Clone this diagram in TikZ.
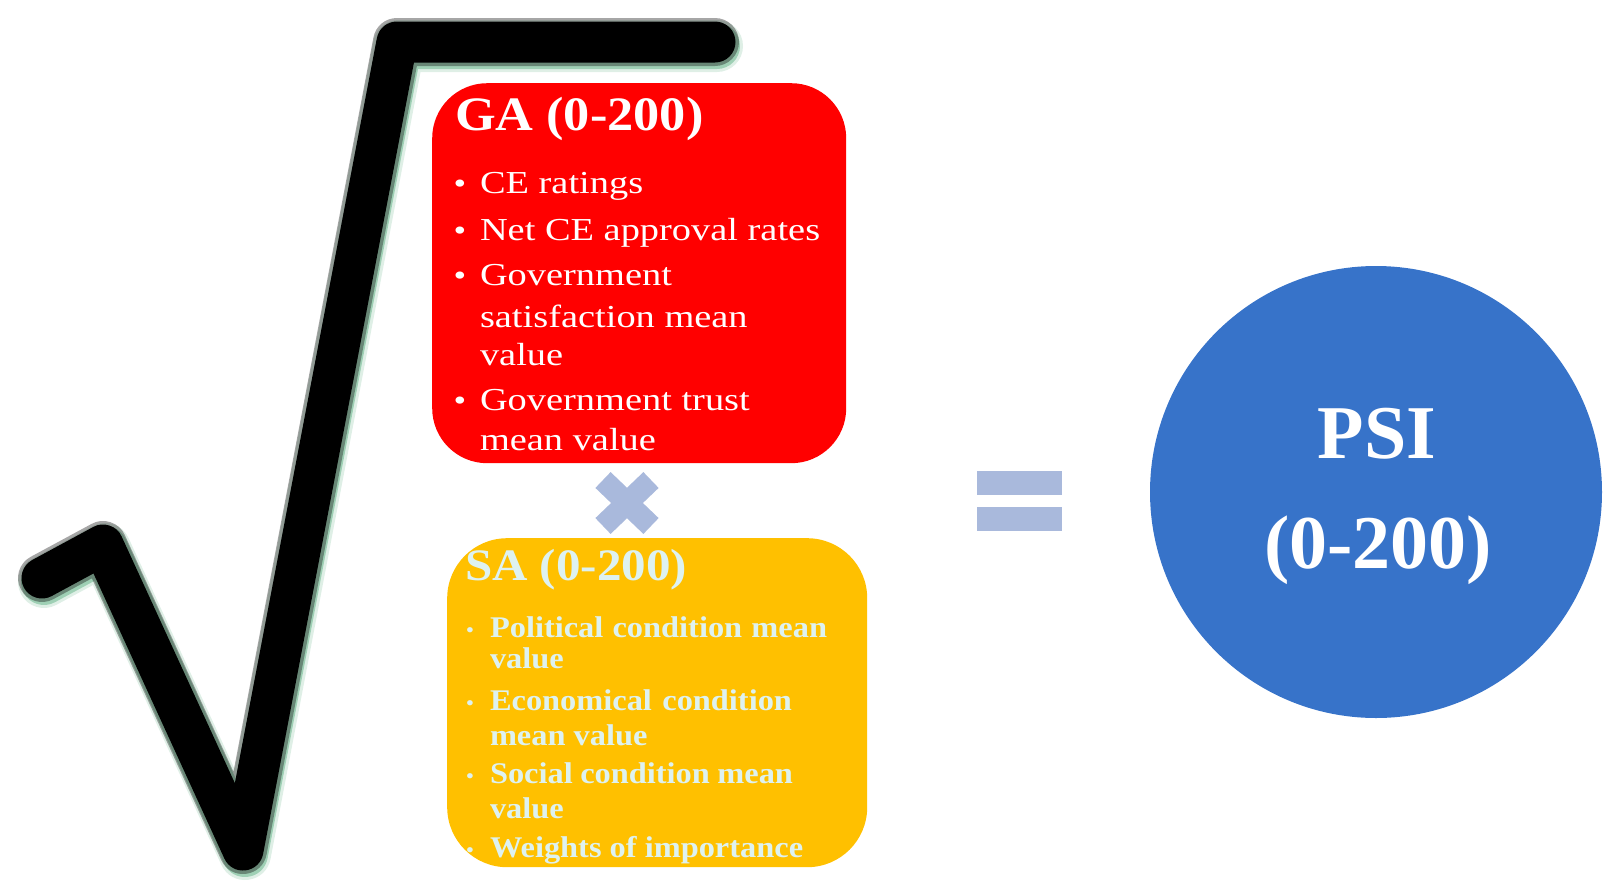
\documentclass[tikz,border=0pt]{standalone}
\usepackage{fontspec}
\setmainfont{Liberation Serif}
\newfontfamily\titlefont[FakeStretch=1.09]{Liberation Serif}
\newfontfamily\gabodyfont[FakeStretch=1.2]{Liberation Serif}
\newfontfamily\sabodyfont[FakeStretch=1.08]{Liberation Serif}
\definecolor{gared}{RGB}{255,0,0}
\definecolor{saorange}{RGB}{255,192,0}
\definecolor{salight}{RGB}{222,242,240}
\definecolor{opgrey}{RGB}{169,185,220}
\definecolor{psiblue}{RGB}{55,115,201}
\definecolor{glow}{RGB}{40,150,90}
\tikzset{
  txt/.style={inner sep=0pt, outer sep=0pt, anchor=base west},
  bul/.style={inner sep=0pt, outer sep=0pt, anchor=base},
  gatitle/.style={txt, text=white, font=\titlefont\bfseries\fontsize{48}{48}\selectfont},
  satitle/.style={txt, text=salight, font=\titlefont\bfseries\fontsize{45}{45}\selectfont},
  gaitem/.style={txt, text=white, font=\gabodyfont\fontsize{32}{32}\selectfont},
  gabul/.style={bul, text=white, font=\gabodyfont\fontsize{30}{30}\selectfont},
  saitem/.style={txt, text=salight, font=\sabodyfont\bfseries\fontsize{30}{30}\selectfont},
  sabul/.style={bul, text=salight, font=\sabodyfont\fontsize{22}{22}\selectfont},
  psitext/.style={inner sep=0pt, outer sep=0pt, anchor=base, text=white, font=\bfseries\fontsize{76}{76}\selectfont},
  opbar/.style={fill=opgrey, draw=none},
  radical/.style={line cap=round, line join=round},
}
\begin{document}
\begin{tikzpicture}[x=1pt,y=-1pt]
\useasboundingbox (0,0) rectangle (1610,887);
% radical sign (blurred black stroke with a green glow)
\begin{scope}[shift={(2,4)}]
\draw[radical, glow, opacity=0.15, line width=52pt] (42,578) -- (103,545) -- (243,850) -- (397,42) -- (715,42);
\draw[radical, glow, opacity=0.35, line width=46pt] (42,578) -- (103,545) -- (243,850) -- (397,42) -- (715,42);
\end{scope}
\draw[radical, black, opacity=0.35, line width=48pt] (42,578) -- (103,545) -- (243,850) -- (397,42) -- (715,42);
\draw[radical, black, line width=41pt] (42,578) -- (103,545) -- (243,850) -- (397,42) -- (715,42);

% GA box
\node[fill=gared, rounded corners=55pt, minimum width=414pt, minimum height=380pt, inner sep=0pt, anchor=north west] (ga) at (432,83) {};
\node[gatitle] (gat) at (455,130) {GA (0-200)};
\node[gabul] (gab1) at (460,193) {\textbullet};
\node[gaitem] (ga1) at (480,193) {CE ratings};
\node[gabul] (gab2) at (460,240) {\textbullet};
\node[gaitem] (ga2) at (480,240) {Net CE approval rates};
\node[gabul] (gab3) at (460,285) {\textbullet};
\node[gaitem] (ga3a) at (480,285) {Government};
\node[gaitem] (ga3b) at (480,327) {satisfaction mean};
\node[gaitem] (ga3c) at (480,365) {value};
\node[gabul] (gab4) at (460,410) {\textbullet};
\node[gaitem] (ga4a) at (480,410) {Government trust};
\node[gaitem] (ga4b) at (480,450) {mean value};

% multiplication sign
\coordinate (times) at (627,503);
\draw[opgrey, line width=22pt] ([shift={(-24,-23)}]times) -- ([shift={(24,23)}]times);
\draw[opgrey, line width=22pt] ([shift={(-24,23)}]times) -- ([shift={(24,-23)}]times);

% SA box
\node[fill=saorange, rounded corners=60pt, minimum width=420pt, minimum height=329pt, inner sep=0pt, anchor=north west] (sa) at (447,538) {};
\node[satitle] (sat) at (465,580) {SA (0-200)};
\node[sabul] (sab1) at (470,637) {\textbullet};
\node[saitem] (sa1a) at (490,637) {\makebox[337pt][s]{Political condition mean}};
\node[saitem] (sa1b) at (490,668) {value};
\node[sabul] (sab2) at (470,710) {\textbullet};
\node[saitem] (sa2a) at (490,710) {\makebox[302pt][s]{Economical condition}};
\node[saitem] (sa2b) at (490,745) {mean value};
\node[sabul] (sab3) at (470,783) {\textbullet};
\node[saitem] (sa3a) at (490,783) {\makebox[303pt][s]{Social condition mean}};
\node[saitem] (sa3b) at (490,818) {value};
\node[sabul] (sab4) at (470,857) {\textbullet};
\node[saitem] (sa4) at (490,857) {Weights of importance};

% equals sign
\path[opbar] (977,471) rectangle (1062,495);
\path[opbar] (977,507) rectangle (1062,531);

% PSI circle
\node[circle, fill=psiblue, minimum size=452pt, inner sep=0pt] (psi) at (1376,492) {};
\node[psitext] (psi1) at (1377,458) {PSI};
\node[psitext] (psi2) at (1378,568) {(0-200)};
\end{tikzpicture}
\end{document}
